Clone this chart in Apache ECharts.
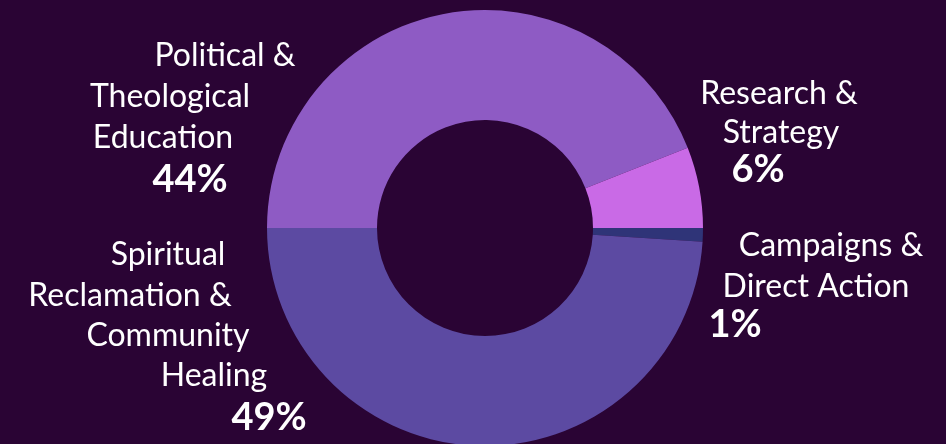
<!DOCTYPE html>
<html>
<head>
<meta charset="utf-8">
<script src="https://cdn.jsdelivr.net/npm/echarts@6/dist/echarts.min.js"></script>
<style>
  html, body { margin: 0; padding: 0; background: #2a0434; }
  #chart { width: 946px; height: 444px; }
</style>
</head>
<body>
<div id="chart"></div>
<script>
// ---- data ----
const categories = [
  'Political & Theological Education',
  'Research & Strategy',
  'Campaigns & Direct Action',
  'Spiritual Reclamation & Community Healing'
];
const values = [44, 6, 1, 49];
const labelLines = [
  ['Political &', 'Theological', 'Education'],
  ['Research &', 'Strategy'],
  ['Campaigns &', 'Direct Action'],
  ['Spiritual', 'Reclamation &', 'Community', 'Healing']
];
const colors = ['#8e5bc4', '#c96ae6', '#2f3478', '#5c4aa2'];

// ---- label layout (positions only) ----
const FONT = 'Lato';
const FS = 32, PFS = 38;
const layout = [
  { cx: [225, 170, 163], pcx: 190, mid0: 56, pitch: 41, pmid: 180 },
  { cx: [779, 781], pcx: 758, mid0: 93.5, pitch: 39.5, pmid: 170 },
  { cx: [831, 816], pcx: 735, mid0: 246, pitch: 40.5, pmid: 325 },
  { cx: [168, 130, 168, 214], pcx: 269, mid0: 255, pitch: 40.3, pmid: 418 }
];

const ctx = document.createElement('canvas').getContext('2d');
function measure(t, font) { ctx.font = font; return ctx.measureText(t).width; }

const boxes = [];
const data = categories.map((name, i) => {
  const L = layout[i];
  const lines = labelLines[i];
  const pct = values[i] + '%';
  const lefts = lines.map((t, j) => L.cx[j] - measure(t, FS + 'px ' + FONT) / 2);
  const pLeft = L.pcx - measure(pct, 'bold ' + PFS + 'px ' + FONT) / 2;
  const boxLeft = Math.min(...lefts, pLeft);
  const lastMid = L.mid0 + (lines.length - 1) * L.pitch;
  const pLH = 2 * (L.pmid - lastMid) - L.pitch;
  boxes.push({ x: boxLeft, y: L.mid0 - L.pitch / 2 });
  const rich = {};
  lines.forEach((t, j) => {
    rich['l' + j] = {
      fontFamily: FONT, fontSize: FS, color: '#ffffff',
      lineHeight: L.pitch, padding: [0, 0, 0, lefts[j] - boxLeft]
    };
  });
  rich.p = {
    fontFamily: FONT, fontSize: PFS, fontWeight: 'bold', color: '#ffffff',
    lineHeight: pLH, padding: [0, 0, 0, pLeft - boxLeft]
  };
  return {
    name: name,
    value: values[i],
    itemStyle: { color: colors[i] },
    label: {
      formatter: lines.map((t, j) => '{l' + j + '|' + t + '}').join('\n') + '\n{p|' + pct + '}',
      rich: rich
    }
  };
});

const chart = echarts.init(document.getElementById('chart'), null, { renderer: 'canvas' });
chart.setOption({
  backgroundColor: '#2a0434',
  animation: false,
  series: [{
    type: 'pie',
    center: [485, 228],
    radius: [108, 218],
    startAngle: 180,
    clockwise: true,
    avoidLabelOverlap: false,
    itemStyle: { borderWidth: 0 },
    emphasis: { disabled: true },
    label: { show: true, position: 'outside', color: '#ffffff', padding: 0 },
    labelLine: { show: false },
    labelLayout: function (params) {
      const b = boxes[params.dataIndex];
      return { x: b.x, y: b.y, align: 'left', verticalAlign: 'top', hideOverlap: false };
    },
    data: data
  }]
});
</script>
</body>
</html>
